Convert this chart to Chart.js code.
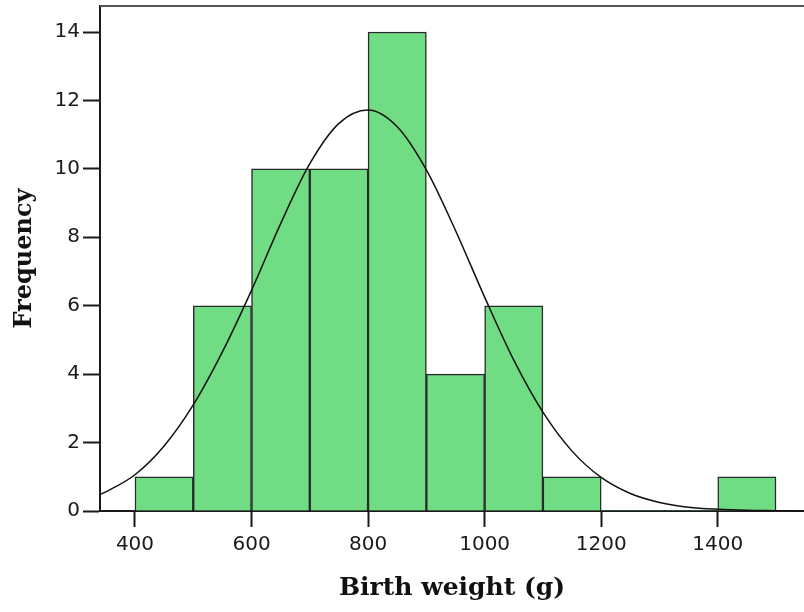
<!DOCTYPE html>
<html>
<head>
<meta charset="utf-8">
<script src="https://cdn.jsdelivr.net/npm/chart.js@4"></script>
<style>
  html, body { margin: 0; padding: 0; background: #fff; }
  #wrap { width: 804px; height: 612px; }
</style>
</head>
<body>
<div id="wrap"><canvas id="histChart"></canvas></div>
<script>
// histogram bins (lower edge, g) and counts
const binStart = [400, 500, 600, 700, 800, 900, 1000, 1100, 1200, 1300, 1400];
const binCounts = [1, 6, 10, 10, 14, 4, 6, 1, 0, 0, 1];
const binWidth = 100;

// normal curve
const curveX = [340, 350, 400, 450, 500, 550, 600, 650, 700, 750, 800, 850, 900, 950, 1000, 1050, 1100, 1150, 1200, 1250, 1300, 1350, 1400, 1450, 1500, 1550];
const curveY = [0.48, 0.56, 1.06, 1.9, 3.1, 4.65, 6.45, 8.4, 10.15, 11.33, 11.72, 11.23, 9.97, 8.2, 6.25, 4.41, 2.89, 1.75, 0.98, 0.51, 0.25, 0.11, 0.05, 0.02, 0.01, 0];

const xTicks = [400, 600, 800, 1000, 1200, 1400];
const yTicks = [0, 2, 4, 6, 8, 10, 12, 14];

const axisColor = '#1a1a1a';
const tickFont = { family: 'DejaVu Sans', size: 20 };

const frameTop = {
  id: 'frameTop',
  afterDraw(chart) {
    const { ctx, chartArea } = chart;
    ctx.save();
    ctx.strokeStyle = '#555';
    ctx.lineWidth = 2;
    ctx.beginPath();
    ctx.moveTo(chartArea.left, chartArea.top);
    ctx.lineTo(chartArea.right, chartArea.top);
    ctx.stroke();
    ctx.restore();
  }
};

const ctx = document.getElementById('histChart');
new Chart(ctx, {
  type: 'bar',
  data: {
    datasets: [{
      type: 'line',
      order: 0,
      data: curveX.map((x, i) => ({ x: x, y: curveY[i] })),
      borderColor: '#111',
      borderWidth: 1.5,
      pointRadius: 0,
      cubicInterpolationMode: 'monotone',
      fill: false
    }, {
      type: 'bar',
      order: 1,
      data: binStart.map((s, i) => ({ x: s + binWidth / 2, y: binCounts[i] })),
      backgroundColor: '#70dc84',
      borderColor: '#2a2a2a',
      borderWidth: c => (c.raw && c.raw.y > 0 ? 1.5 : 0),
      barPercentage: 1,
      categoryPercentage: 1
    }]
  },
  options: {
    responsive: true,
    maintainAspectRatio: false,
    animation: false,
    layout: { padding: { top: 6, right: 0, left: 0, bottom: 0 } },
    plugins: {
      legend: { display: false },
      tooltip: { enabled: false }
    },
    scales: {
      x: {
        type: 'linear',
        min: 340,
        max: 1548,
        offset: false,
        afterBuildTicks: s => { s.ticks = xTicks.map(v => ({ value: v })); },
        afterFit: s => { s.height = 101; s.paddingLeft = 0; s.paddingRight = 0; },
        border: { display: true, color: axisColor, width: 2 },
        grid: { drawOnChartArea: false, offset: false, tickLength: 16, tickColor: axisColor, tickWidth: 2 },
        ticks: { padding: 6, color: axisColor, font: tickFont, callback: v => String(v) },
        title: { display: true, text: 'Birth weight (g)', color: '#111', font: { family: 'DejaVu Serif', weight: 'bold', size: 25 }, padding: 9 }
      },
      y: {
        min: 0,
        max: 14.76,
        afterBuildTicks: s => { s.ticks = yTicks.map(v => ({ value: v })); },
        afterFit: s => { s.width = 100; s.paddingTop = 0; s.paddingBottom = 0; },
        border: { display: true, color: axisColor, width: 2 },
        grid: { drawOnChartArea: false, tickLength: 17, tickColor: axisColor, tickWidth: 2 },
        ticks: { padding: 3, color: axisColor, font: tickFont, callback: v => String(v) },
        title: { display: true, text: 'Frequency', color: '#111', font: { family: 'DejaVu Serif', weight: 'bold', size: 24 }, padding: 10 }
      }
    }
  },
  plugins: [frameTop]
});
</script>
</body>
</html>
